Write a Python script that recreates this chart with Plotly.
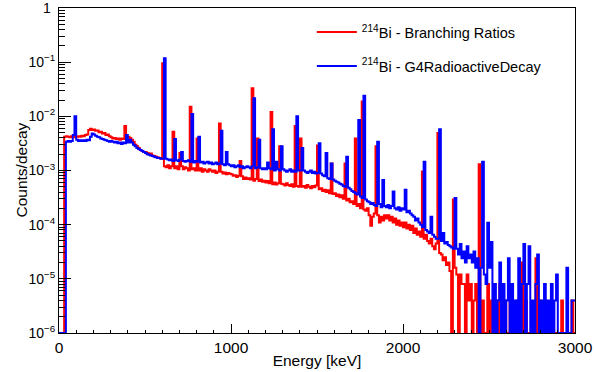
import numpy as np
import plotly.graph_objects as go

# ---------------- data (counts/decay in units of 1e-6, 10 keV bins from 0 keV) ----------------
BIN_KEV = 10
UNIT = 1e-6

red_continuum = [
    0, 0, 0, 4200, 4300, 4200, 4100, 4300, 4200, 4100,
    4200, 4300, 4200, 4400, 4300, 4500, 4600, 5600, 5900, 5600,
    5700, 5400, 5500, 5100, 5200, 4800, 4900, 4500, 4600, 4300,
    4100, 3900, 4000, 3800, 3900, 3700, 3900, 3800, 3900, 3700,
    4200, 4000, 3700, 3400, 3000, 2800, 2600, 2400, 2300, 2200,
    2200, 2100, 2000, 2050, 1900, 1850, 1800, 1750, 1700, 1650,
    1650, 1200, 1150, 1250, 1100, 1200, 1150, 1100, 1200, 1050,
    1150, 1200, 1050, 1150, 1100, 1000, 1150, 1050, 1100, 1000,
    1050, 1000, 1100, 950, 1050, 1000, 950, 1050, 1000, 950,
    1000, 900, 950, 900, 950, 880, 920, 850, 900, 870,
    850, 800, 820, 760, 800, 720, 780, 700, 740, 700,
    720, 680, 720, 650, 700, 660, 640, 680, 620, 650,
    600, 640, 580, 620, 560, 600, 550, 580, 540, 570,
    560, 530, 580, 540, 520, 560, 500, 540, 520, 500,
    540, 500, 520, 480, 540, 500, 470, 520, 490, 530,
    480, 450, 470, 420, 440, 400, 430, 380, 410, 370,
    380, 340, 360, 320, 350, 300, 320, 280, 300, 260,
    270, 240, 260, 220, 240, 200, 210, 190, 180, 200,
    150, 95, 140, 160, 130, 150, 110, 140, 120, 150,
    130, 150, 120, 140, 110, 130, 100, 120, 95, 110,
    90, 110, 85, 100, 80, 95, 70, 85, 65, 75,
    60, 70, 55, 65, 50, 45, 55, 40, 35, 45,
    38, 30, 28, 22, 25, 18, 20, 14, 0, 18,
    16, 12, 0, 12, 8, 8, 0, 12, 4, 8,
    0, 4, 8, 0, 4, 0, 4, 0, 0, 8,
    0, 4, 0, 0, 4, 0, 8, 0, 0, 4,
    0, 0, 4, 0, 0, 0, 4, 0, 0, 20,
    0, 4, 0, 0, 0, 0, 0, 24, 0, 4,
    0, 0, 4, 0, 0, 0, 0, 0, 0, 0,
    0, 0, 4, 0, 0, 0, 0, 0, 4, 0,
]

blue_continuum = [
    0, 0, 0, 0, 3400, 3500, 3400, 3500, 4500, 3600,
    3700, 3500, 3600, 3500, 3600, 3500, 3700, 3600, 4200, 4800,
    4600, 4400, 4200, 4100, 3900, 3800, 3700, 3600, 3500, 3400,
    3500, 3400, 3300, 3400, 3200, 3300, 3100, 3300, 3200, 3300,
    3300, 3700, 3300, 3000, 2800, 2600, 2500, 2400, 2300, 2200,
    2100, 2000, 1950, 1900, 1850, 1800, 1750, 1700, 1700, 1650,
    1650, 1600, 1650, 1600, 1550, 1600, 1500, 1550, 1550, 1500,
    1600, 1500, 1500, 1450, 1500, 1550, 1450, 1500, 1400, 1500,
    1450, 1450, 1400, 1450, 1350, 1400, 1450, 1350, 1400, 1300,
    1350, 1400, 1300, 1350, 1300, 1300, 1250, 1300, 1300, 1250,
    1200, 1250, 1150, 1200, 1250, 1150, 1200, 1100, 1150, 1200,
    1150, 1100, 1200, 1100, 1100, 1150, 1100, 1100, 1050, 1100,
    1050, 1400, 1100, 1050, 1100, 1000, 1450, 1050, 1000, 1050,
    1050, 1000, 950, 1000, 1050, 950, 1000, 950, 1050, 1000,
    1000, 950, 1000, 950, 900, 950, 1000, 900, 950, 880,
    900, 850, 880, 820, 780, 760, 720, 700, 1350, 680,
    650, 620, 600, 570, 550, 520, 500, 520, 480, 450,
    420, 400, 380, 360, 350, 330, 310, 300, 290, 270,
    260, 240, 250, 230, 220, 240, 240, 210, 670, 220,
    210, 230, 200, 220, 410, 200, 190, 210, 180, 200,
    190, 440, 170, 180, 160, 150, 140, 120, 130, 110,
    100, 90, 95, 80, 75, 70, 140, 65, 60, 55,
    55, 50, 50, 70, 45, 48, 42, 40, 38, 36,
    36, 36, 28, 44, 24, 32, 20, 40, 24, 28,
    20, 32, 16, 24, 0, 16, 20, 12, 8, 108,
    16, 48, 0, 8, 0, 4, 20, 0, 8, 0,
    4, 24, 0, 8, 0, 4, 0, 24, 0, 8,
    44, 0, 8, 40, 0, 4, 0, 8, 28, 0,
    4, 0, 8, 0, 4, 0, 8, 0, 4, 12,
    0, 0, 0, 0, 0, 16, 0, 0, 4, 4,
]

# gamma lines (bin low edge in keV, height in 1e-6 counts/decay)
red_peak_kev = [380, 600, 660, 700, 760, 800, 930, 1050, 1120, 1150, 1230, 1280, 1370, 1400,
                1500, 1580, 1660, 1720, 1760, 1840, 2110, 2200, 2290, 2440]
red_peak_val = [6600, 95000, 5200, 2100, 15000, 3900, 7400, 1500, 33000, 3900, 12000, 2800, 6600, 3900,
                2900, 1350, 1350, 3900, 18700, 2800, 960, 4900, 290, 1300]

blue_peak_kev = [90, 390, 610, 670, 710, 770, 810, 940, 970, 1130, 1160, 1240, 1290, 1380, 1410,
                 1510, 1550, 1670, 1740, 1770, 1850, 2120, 2210, 2300, 2460]
blue_peak_val = [10000, 4500, 118000, 3800, 2200, 11000, 4200, 5400, 2200, 21500, 3700, 5800, 2800, 10000, 2600,
                 3200, 2100, 1800, 8600, 24000, 3400, 1450, 5800, 310, 1450]

red_name = "<sup>214</sup>Bi - Branching Ratios"
blue_name = "<sup>214</sup>Bi - G4RadioactiveDecay"
x_tick_vals = [0, 1000, 2000, 3000]
y_tick_vals = [1e-6, 1e-5, 1e-4, 1e-3, 1e-2, 1e-1, 1]
y_tick_text = ["10<sup>\u22126</sup>", "10<sup>\u22125</sup>", "10<sup>\u22124</sup>", "10<sup>\u22123</sup>",
               "10<sup>\u22122</sup>", "10<sup>\u22121</sup>", ""]
y_top_label = "1"  # label of the top decade, placed as text (plotly drops edge label)
y_minor_vals = [m * 10.0 ** d for d in range(-6, 0) for m in range(2, 10)]

Y_MIN, Y_MAX = 1e-6, 1.0
X_MIN, X_MAX = 0, 3000


def histogram(continuum, peak_kev, peak_val):
    vals = np.array(continuum, dtype=float)
    for e, v in zip(peak_kev, peak_val):
        vals[e // BIN_KEV] = v
    vals = vals * UNIT
    # empty bins are drawn on the lower frame, as ROOT does
    vals = np.maximum(vals, Y_MIN)
    edges = np.arange(len(vals) + 1) * BIN_KEV
    return edges, np.append(vals, vals[-1])


fig = go.Figure()
for cont, pk, pv, color, name, grp in [
    (red_continuum, red_peak_kev, red_peak_val, "#ff0000", red_name, "r"),
    (blue_continuum, blue_peak_kev, blue_peak_val, "#0000ff", blue_name, "b"),
]:
    x, y = histogram(cont, pk, pv)
    fig.add_trace(go.Scatter(x=x, y=y, mode="lines", line=dict(color=color, width=2, shape="hv"),
                             name=name, legendgroup=grp))

FONT = "Liberation Sans, Arial, Helvetica, sans-serif"

fig.update_layout(
    width=594, height=372,
    margin=dict(l=59, r=19, t=8, b=39),
    plot_bgcolor="white", paper_bgcolor="white",
    font=dict(family=FONT, size=15, color="black"),
    showlegend=True,
    legend=dict(x=0.49, y=0.975, xanchor="left", yanchor="top", bgcolor="rgba(0,0,0,0)",
                font=dict(size=14.5), tracegroupgap=12, itemwidth=40),
    xaxis=dict(range=[X_MIN, X_MAX], tickmode="array", tickvals=x_tick_vals, ticks="inside", ticklen=9,
               tickcolor="black", tickwidth=1, showline=True, linecolor="black", linewidth=1, mirror=True,
               showgrid=False, zeroline=False, automargin=False, tickfont=dict(size=15.5),
               minor=dict(tickmode="linear", tick0=0, dtick=100, ticks="inside", ticklen=3, tickcolor="black",
                          showgrid=False),
               title=dict(text="Energy [keV]", font=dict(size=15.5), standoff=0)),
    xaxis2=dict(overlaying="x", anchor="y", side="bottom", range=[X_MIN, X_MAX], tickmode="linear", tick0=0,
                dtick=200, ticks="inside", ticklen=5, tickcolor="black", showticklabels=False, showline=False,
                showgrid=False, zeroline=False),
    yaxis=dict(type="log", range=[np.log10(Y_MIN), np.log10(Y_MAX)], tickmode="array",
               tickvals=y_tick_vals, ticktext=y_tick_text,
               ticks="inside", ticklen=12, tickcolor="black", showline=True,
               linecolor="black", linewidth=1, mirror=True, showgrid=False, zeroline=False, automargin=False,
               tickfont=dict(size=14),
               minor=dict(tickmode="array", tickvals=y_minor_vals, ticks="inside", ticklen=6, tickcolor="black",
                          showgrid=False)),
    annotations=[
        dict(text="Counts/decay", textangle=-90, xref="paper", yref="paper", x=-0.0736, y=0.5,
             xanchor="center", yanchor="middle", showarrow=False, font=dict(size=15.5)),
        dict(text=y_top_label, xref="paper", yref="paper", x=-0.012, y=1.0,
             xanchor="right", yanchor="middle", showarrow=False, font=dict(size=14)),
    ],
)

fig.write_html("out.html")
